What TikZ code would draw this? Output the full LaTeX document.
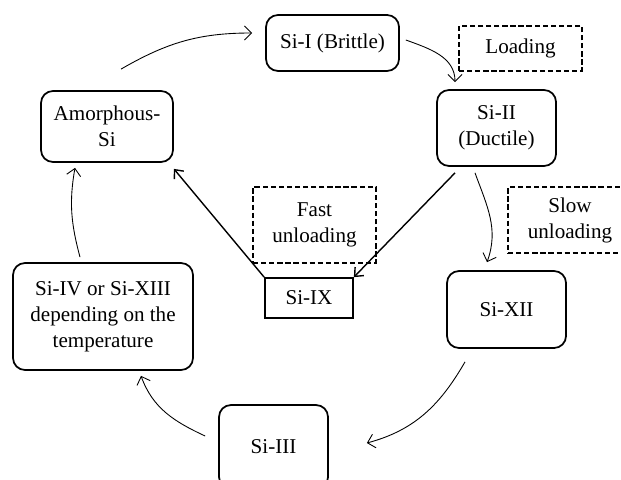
\documentclass[tikz,border=0pt]{standalone}
\usepackage{fontspec}
\setmainfont{Liberation Serif}
\usetikzlibrary{arrows.meta}

\begin{document}
\begin{tikzpicture}[
    phase/.style={draw, line width=1pt, rounded corners=0.24cm, align=center, inner sep=0pt},
    note/.style={draw, line width=1pt, dash pattern=on 3pt off 1.6pt, align=center, inner sep=0pt},
    flow/.style={line width=0.5pt, -{Straight Barb[length=4pt,width=8pt]}},
    quick/.style={line width=0.8pt, -{Straight Barb[length=4pt,width=7pt]}},
    font=\fontsize{12}{14.8}\selectfont]
  \useasboundingbox (0,0) rectangle (12.42,9.58);

  % Phases
  \node[phase, minimum width=2.66cm, minimum height=1.12cm] (SiI) at (6.65,8.72) {Si-I (Brittle)};
  \node[phase, minimum width=2.38cm, minimum height=1.52cm] (SiII) at (9.93,7.02) {Si-II\\(Ductile)};
  \node[phase, minimum width=2.64cm, minimum height=1.42cm] (amorph) at (2.14,7.05) {Amorphous-\\Si};
  \node[phase, minimum width=2.38cm, minimum height=1.54cm] (SiXII) at (10.13,3.39) {Si-XII};
  \node[phase, minimum width=3.60cm, minimum height=2.14cm] (SiIV) at (2.06,3.25) {Si-IV or Si-XIII\\depending on the\\temperature};
  \node[phase, minimum width=2.18cm, minimum height=1.68cm] (SiIII) at (5.47,0.64) {Si-III};
  \node[draw, line width=1pt, minimum width=1.76cm, minimum height=0.8cm, inner sep=0pt] (SiIX) at (6.18,3.62) {Si-IX};

  % Labels
  \node[note, minimum width=2.46cm, minimum height=0.9cm] (loading) at (10.41,8.61) {Loading};
  \node[note, minimum width=2.46cm, minimum height=1.52cm] (fast) at (6.29,5.08) {Fast\\unloading};
  \node[note, minimum width=2.48cm, minimum height=1.32cm] (slow) at (11.40,5.18) {Slow\\unloading};

  % Cycle
  \draw[flow] ([shift={(0.28,0.42)}]amorph.north) to[out=30,in=180] ([shift={(-0.26,0.2)}]SiI.west);
  \draw[flow] ([shift={(0.12,0.06)}]SiI.east) to[out=-20,in=90] ([shift={(-0.83,0.14)}]SiII.north);
  \draw[flow] ([shift={(-0.43,-0.12)}]SiII.south) to[out=-70,in=70] ([shift={(-0.39,0.16)}]SiXII.north);
  \draw[flow] ([shift={(-0.83,-0.26)}]SiXII.south) to[out=-120,in=15] ([shift={(0.76,0.08)}]SiIII.east);
  \draw[flow] ([shift={(-0.26,0.22)}]SiIII.west) to[out=155,in=-70] ([shift={(0.76,-0.1)}]SiIV.south);
  \draw[flow] ([shift={(-0.46,0.1)}]SiIV.north) to[out=105,in=-100] ([shift={(-0.64,-0.1)}]amorph.south);

  % Fast unloading
  \draw[quick] ([shift={(-0.83,-0.12)}]SiII.south) -- (SiIX.north east);
  \draw[quick] (SiIX.north west) -- ([yshift=-0.12cm]amorph.south east);
\end{tikzpicture}
\end{document}
